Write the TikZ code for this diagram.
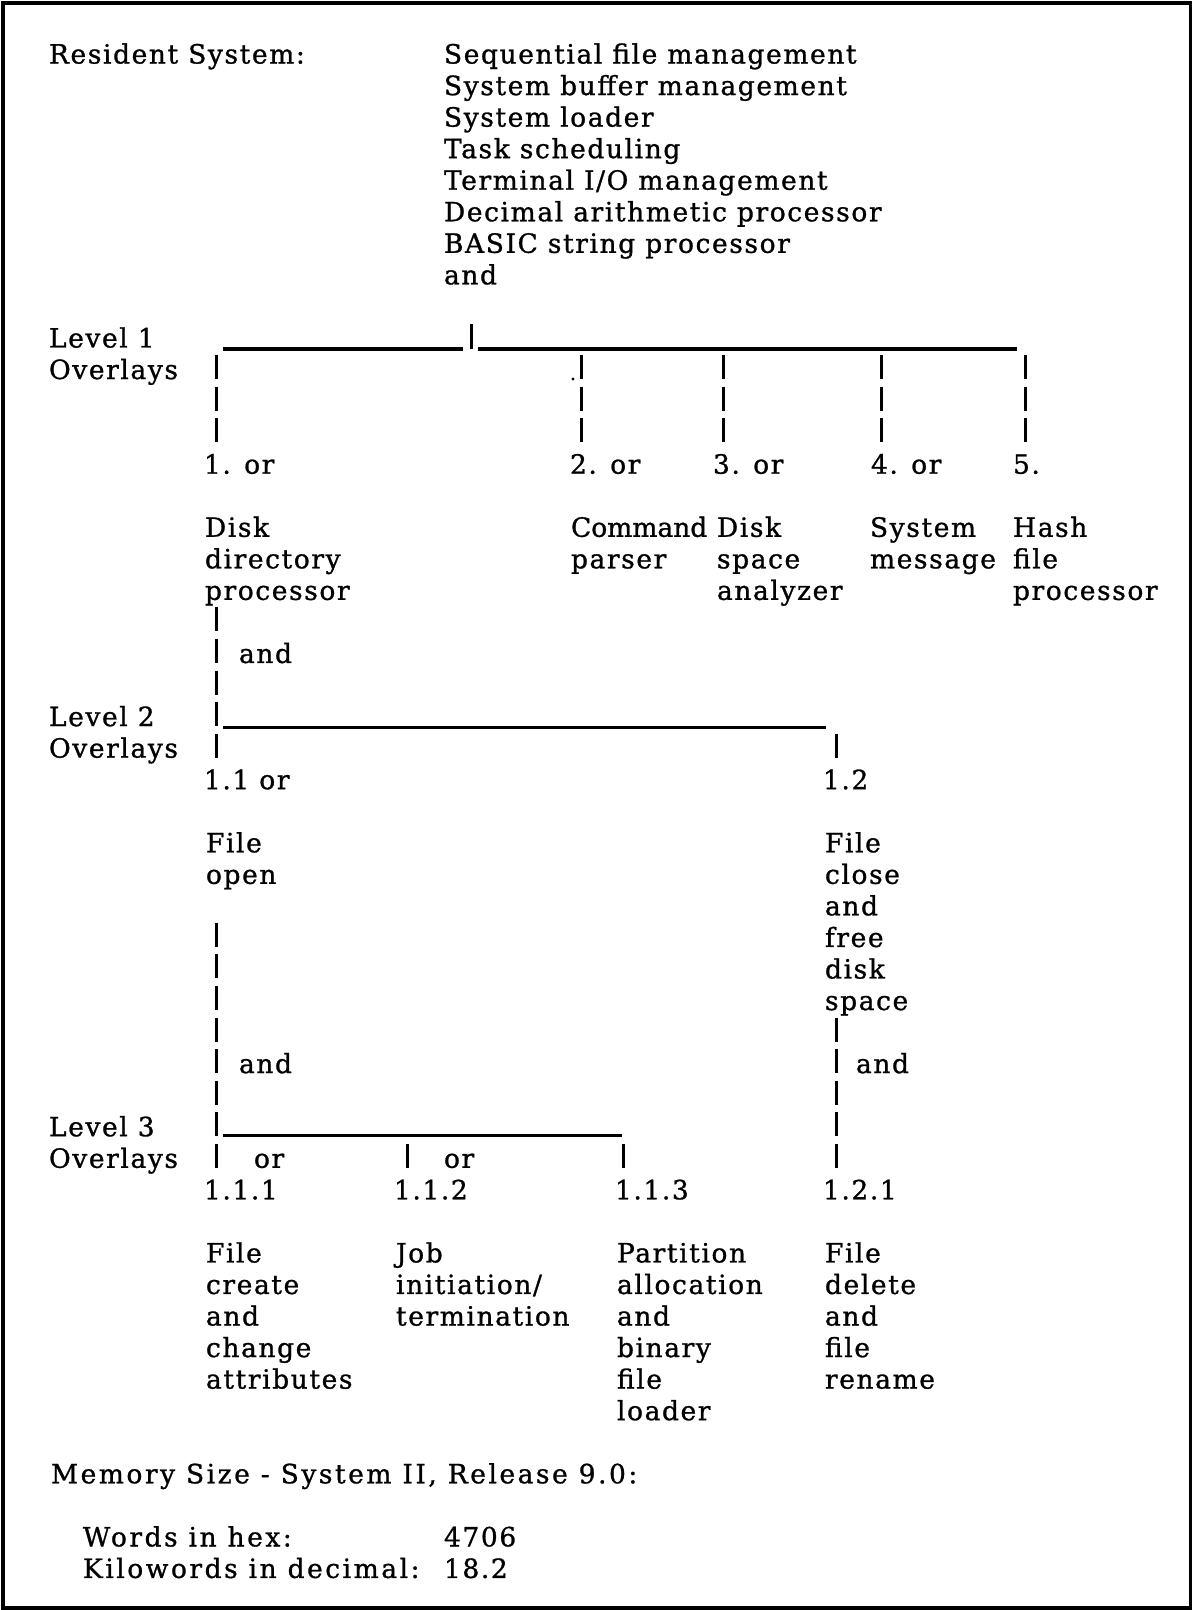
\documentclass[tikz,border=0pt]{standalone}
\usepackage{fontspec}
\setmainfont[LetterSpace=6,FakeBold=1]{DejaVu Serif}
% tighter and looser cuts of the same face
\newfontfamily\tightface[LetterSpace=0,FakeBold=1]{DejaVu Serif}
\newfontfamily\wideface[LetterSpace=9.5,FakeBold=1]{DejaVu Serif}
% typewriter-like text: 26.5pt type on a 31.55pt line grid
\newcommand\tw{\fontsize{26.5}{31.55}\selectfont}
% baseline of text row #1
\newcommand\R[1]{63.5+31.55*#1}
% stacked lines, baseline = first line
\newcommand\ml[1]{\begin{tabular}[t]{@{}l@{}}#1\end{tabular}}
\begin{document}
\begin{tikzpicture}[x=1pt,y=-1pt,
  txt/.style={anchor=base west, inner sep=0pt, outer sep=0pt, font=\tw},
  rule/.style={line width=3.2pt},
  tick/.style={line width=3pt},
  bars/.style={line width=3pt, dash pattern=on 24pt off 7.55pt},
]
\useasboundingbox (0,0) rectangle (1194,1610);
\draw[line width=3.5pt] (3,3) rectangle (1190.5,1608);

% ---- resident system ----
\node[txt] (res) at (49,\R{0}) {Resident System:};
\node[txt] (rlist) at (444,\R{0}) {\ml{Sequential file management\\System buffer management\\System loader\\Task scheduling\\Terminal I/O management\\Decimal arithmetic processor\\BASIC string processor\\and}};

% ---- level 1 ----
\node[txt] (lv1) at (49,\R{9}) {\ml{Level 1\\Overlays}};
\coordinate (h1l) at (223,\R{9}+1.5);
\coordinate (h1m) at (463,\R{9}+1.5);
\coordinate (h1n) at (478,\R{9}+1.5);
\coordinate (h1r) at (1017,\R{9}+1.5);
\coordinate (tk) at (471,\R{9}-23);
\draw[rule] (h1l) -- (h1m);
\draw[rule] (h1n) -- (h1r);
\draw[tick] (tk) -- (tk |- h1l);
\foreach \x/\n in {216/1,581/2,723/3,881/4,1025/5}{
  \coordinate (v\n a) at (\x,\R{10}-24);
  \coordinate (v\n b) at (\x,\R{12});
  \draw[bars] (v\n a) -- (v\n b);
}
\fill (573,379) circle (1.6);

\node[txt] (n1) at (204,\R{13}) {1. or};
\node[txt] (n2) at (570,\R{13}) {2. or};
\node[txt] (n3) at (713,\R{13}) {3. or};
\node[txt] (n4) at (871,\R{13}) {4. or};
\node[txt] (n5) at (1013,\R{13}) {5.};

\node[txt] (d1) at (205,\R{15}) {\ml{Disk\\directory\\processor}};
\node[txt] (d2) at (571,\R{15}) {\ml{{\tightface Command}\\parser}};
\node[txt] (d3) at (717,\R{15}) {\ml{Disk\\space\\analyzer}};
\node[txt] (d4) at (870,\R{15}) {\ml{System\\message}};
\node[txt] (d5) at (1013,\R{15}) {\ml{Hash\\file\\processor}};

% ---- level 2 ----
\coordinate (v6a) at (216,\R{18}-24);
\coordinate (v6b) at (216,\R{22});
\draw[bars] (v6a) -- (v6b);
\node[txt] (and1) at (239,\R{19}) {and};
\node[txt] (lv2) at (49,\R{21}) {\ml{Level 2\\Overlays}};
\coordinate (h2l) at (223,\R{21}+1.5);
\coordinate (h2r) at (826,\R{21}+1.5);
\draw[rule] (h2l) -- (h2r);
\coordinate (v7a) at (836,\R{22}-24);
\coordinate (v7b) at (836,\R{22});
\draw[bars] (v7a) -- (v7b);

\node[txt] (n11) at (204,\R{23}) {1.1 or};
\node[txt] (n12) at (823,\R{23}) {1.2};
\node[txt] (d11) at (206,\R{25}) {\ml{File\\open}};
\node[txt] (d12) at (825,\R{25}) {\ml{File\\close\\and\\free\\disk\\space}};

% ---- level 3 ----
\coordinate (v8a) at (216,\R{28}-24);
\coordinate (v8b) at (216,\R{35});
\draw[bars] (v8a) -- (v8b);
\coordinate (v9a) at (836,\R{31}-24);
\coordinate (v9b) at (836,\R{35});
\draw[bars] (v9a) -- (v9b);
\node[txt] (and2) at (239,\R{32}) {and};
\node[txt] (and3) at (856,\R{32}) {and};
\node[txt] (lv3) at (49,\R{34}) {\ml{Level 3\\Overlays}};
\coordinate (h3l) at (223,\R{34}-1);
\coordinate (h3r) at (622,\R{34}-1);
\draw[rule] (h3l) -- (h3r);
\foreach \x/\n in {407/10,623/11}{
  \coordinate (v\n a) at (\x,\R{35}-24);
  \coordinate (v\n b) at (\x,\R{35});
  \draw[bars] (v\n a) -- (v\n b);
}
\node[txt] (or1) at (254,\R{35}) {or};
\node[txt] (or2) at (444,\R{35}) {or};

\node[txt] (n111) at (204,\R{36}) {1.1.1};
\node[txt] (n112) at (394,\R{36}) {1.1.2};
\node[txt] (n113) at (615,\R{36}) {1.1.3};
\node[txt] (n121) at (823,\R{36}) {1.2.1};

\node[txt] (d111) at (206,\R{38}) {\ml{File\\create\\and\\change\\attributes}};
\node[txt] (d112) at (396,\R{38}) {\ml{Job\\initiation/\\termination}};
\node[txt] (d113) at (617,\R{38}) {\ml{Partition\\allocation\\and\\binary\\file\\loader}};
\node[txt] (d121) at (825,\R{38}) {\ml{File\\delete\\and\\file\\rename}};

% ---- memory size ----
\node[txt, font=\tw\wideface] (mem) at (51,\R{45}) {Memory Size - System II, Release 9.0:};
\node[txt, font=\tw\wideface] (wk) at (83,\R{47}) {\ml{Words in hex:\\Kilowords in decimal:}};
\node[txt] (wv) at (444,\R{47}) {\ml{4706\\18.2}};
\end{tikzpicture}
\end{document}
